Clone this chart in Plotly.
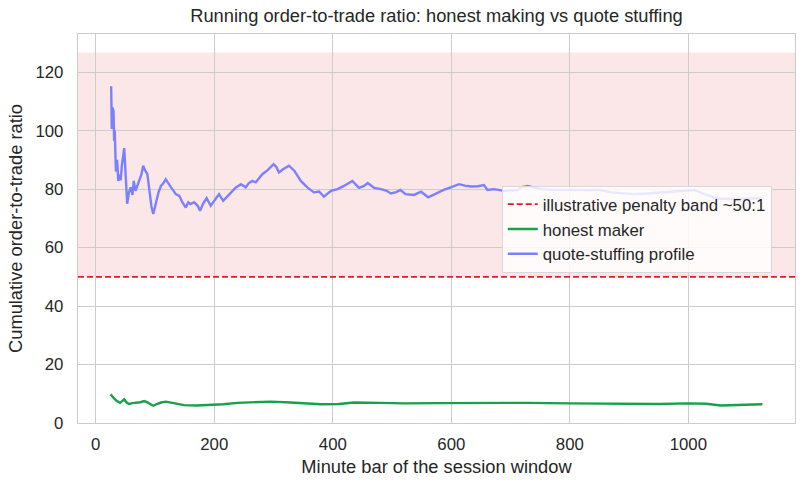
import plotly.graph_objects as go

# ---- data ----
stuff_minute = [26, 27, 28, 30, 31, 32, 34, 36, 38, 40,
                42, 44, 48, 50, 53, 56, 59, 62, 64, 67,
                70, 73, 77, 80, 83, 87, 90, 94, 97, 101,
                106, 110, 114, 118, 122, 127, 131, 135, 141, 146,
                152, 156, 160, 166, 172, 176, 181, 187, 194, 201,
                208, 215, 222, 228, 236, 245, 253, 258, 264, 270,
                276, 281, 290, 300, 305, 309, 316, 326, 335, 346,
                357, 368, 377, 385, 397, 408, 418, 425, 433, 444,
                452, 459, 470, 481, 490, 498, 507, 514, 523, 537,
                549, 561, 569, 577, 588, 599, 613, 623, 633, 645,
                655, 661, 672, 689, 700, 712, 717, 729, 740, 751,
                770, 796, 820, 852, 869, 890, 908, 930, 954, 980,
                1010, 1027, 1049, 1077, 1100, 1122]
stuff_ratio = [115.2, 100.6, 108, 106.7, 96.5, 100, 86, 90, 82.8, 85,
               83, 88, 94, 85, 75, 79, 80.6, 78, 82.8, 79.4,
               81, 82.8, 85, 88, 86.5, 85.2, 80, 74, 71.5, 75,
               79, 81.1, 82, 83.4, 82, 80.6, 79.5, 78.3, 77.7, 75.5,
               73.7, 75.5, 74.9, 75.5, 74.3, 72.6, 75, 76.9, 74.3, 76.5,
               78.3, 76, 77.5, 78.9, 80.5, 81.7, 80.6, 82, 82.8, 82.3,
               84, 85.1, 86.5, 88.5, 87.5, 85.7, 86.8, 88, 86.3, 82.8,
               80.6, 78.9, 79.2, 77.4, 79.4, 80, 81, 81.9, 82.8, 80.4,
               81, 82.1, 80.4, 80, 79.5, 78.5, 79, 79.7, 78.3, 78,
               79.1, 77.2, 78, 78.9, 79.8, 80.6, 81.7, 81.2, 80.9, 81,
               81.4, 79.7, 80, 79.4, 79.6, 79.7, 80.6, 81.1, 80.5, 80,
               79.8, 79.7, 79.7, 79.7, 78.9, 78.6, 78.3, 78.5, 78.9, 79.3,
               79.7, 78.3, 76.8, 76.6, 76.8, 76.9]

honest_minute = [25, 28, 31, 35, 38, 41, 44, 48, 52, 56,
                 62, 68, 75, 82, 88, 93, 97, 103, 110, 118,
                 130, 149, 170, 194, 215, 239, 265, 295, 329, 355,
                 380, 410, 436, 480, 520, 575, 633, 680, 729, 800,
                 850, 897, 950, 999, 1030, 1055, 1090, 1125]
honest_ratio = [9.8, 9.0, 8.4, 7.6, 7.2, 6.9, 7.4, 8.1, 7.0, 6.5,
                6.8, 6.9, 7.1, 7.5, 7.0, 6.3, 5.9, 6.5, 7.0, 7.3,
                6.8, 6.1, 6.0, 6.1, 6.4, 6.9, 7.0, 7.3, 7.0, 6.7,
                6.4, 6.5, 7.0, 6.9, 6.7, 6.8, 6.9, 6.9, 6.9, 6.7,
                6.6, 6.4, 6.5, 6.7, 6.6, 6.0, 6.2, 6.4]

penalty_level = 50
x_ticks = [0, 200, 400, 600, 800, 1000]
y_ticks = [0, 20, 40, 60, 80, 100, 120]

assert len(stuff_minute) == len(stuff_ratio)
assert len(honest_minute) == len(honest_ratio)

# ---- derived extents (matplotlib-like 5% margins) ----
xmin = min(min(stuff_minute), min(honest_minute))
xmax = max(max(stuff_minute), max(honest_minute))
pad = 0.05 * (xmax - xmin)
x_range = [xmin - pad, xmax + pad]
band_top = 1.1 * max(stuff_ratio)
y_range = [0, band_top * 1.05]

TEXT = "#262626"
FONT = "Liberation Sans, Arial, sans-serif"
BIG = 18.3
SMALL = 16.8

fig = go.Figure()

fig.add_shape(type="rect", xref="paper", x0=0, x1=1, yref="y",
              y0=penalty_level, y1=band_top,
              fillcolor="rgba(220,40,40,0.11)", line_width=0, layer="between")

fig.add_trace(go.Scatter(
    x=x_range, y=[penalty_level, penalty_level], mode="lines",
    name="illustrative penalty band ~50:1",
    line=dict(color="#e02020", width=1.7, dash="6px,3px"),
    hoverinfo="skip"))
fig.add_trace(go.Scatter(
    x=honest_minute, y=honest_ratio, mode="lines", name="honest maker",
    line=dict(color="#18a04a", width=2.4)))
fig.add_trace(go.Scatter(
    x=stuff_minute, y=stuff_ratio, mode="lines", name="quote-stuffing profile",
    line=dict(color="#7a80ff", width=2.4)))

fig.update_layout(
    width=804, height=488,
    margin=dict(l=78, r=9, t=34, b=65),
    paper_bgcolor="white", plot_bgcolor="white",
    font=dict(family=FONT, color=TEXT, size=SMALL),
    title=dict(text="Running order-to-trade ratio: honest making vs quote stuffing",
               x=0.5, xref="paper", xanchor="center",
               y=1 - 16 / 488, yref="container", yanchor="middle",
               font=dict(size=BIG, color=TEXT)),
    legend=dict(x=0.591, y=0.61, xanchor="left", yanchor="top",
                bgcolor="rgba(255,255,255,0.82)", bordercolor="#d8d8d8",
                borderwidth=1, font=dict(size=SMALL, color=TEXT),
                tracegroupgap=0),
    showlegend=True,
)

fig.update_xaxes(range=x_range, tickvals=x_ticks, showgrid=True,
                 gridcolor="#cccccc", gridwidth=1.4, zeroline=False,
                 showline=True, linecolor="#cccccc", linewidth=1.4, mirror=True,
                 ticks="", ticklabelstandoff=6, tickfont=dict(size=SMALL, color=TEXT),
                 title=dict(text="Minute bar of the session window",
                            font=dict(size=BIG, color=TEXT), standoff=6))
fig.update_yaxes(range=y_range, tickvals=y_ticks, showgrid=True,
                 gridcolor="#cccccc", gridwidth=1.4, zeroline=False,
                 showline=True, linecolor="#cccccc", linewidth=1.4, mirror=True,
                 ticks="", ticklabelstandoff=10, tickfont=dict(size=SMALL, color=TEXT),
                 title=dict(text="Cumulative order-to-trade ratio",
                            font=dict(size=BIG, color=TEXT), standoff=8))

fig.write_html("out.html")
